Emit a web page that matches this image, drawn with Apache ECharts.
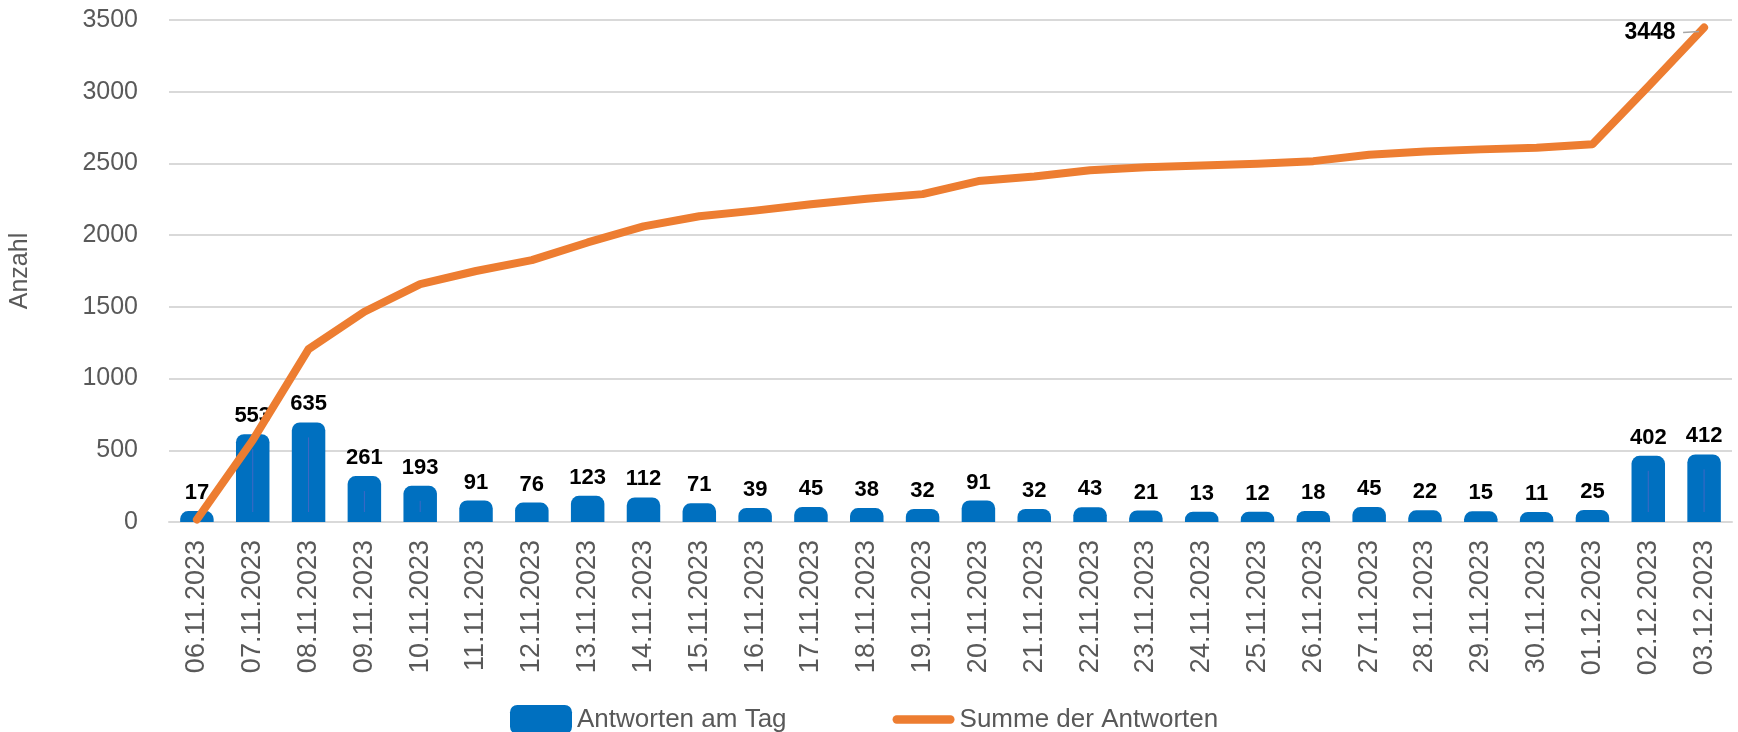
<!DOCTYPE html>
<html>
<head>
<meta charset="utf-8">
<script src="https://cdn.jsdelivr.net/npm/echarts@6/dist/echarts.min.js"></script>
<style>
  html, body { margin: 0; padding: 0; background: #fff; }
  #chart_box { width: 1738px; height: 732px; }
</style>
</head>
<body>
<div id="chart_box"></div>
<script>
// Tage (x-Achse)
const days = [
  "06.11.2023", "07.11.2023", "08.11.2023", "09.11.2023", "10.11.2023",
  "11.11.2023", "12.11.2023", "13.11.2023", "14.11.2023", "15.11.2023",
  "16.11.2023", "17.11.2023", "18.11.2023", "19.11.2023", "20.11.2023",
  "21.11.2023", "22.11.2023", "23.11.2023", "24.11.2023", "25.11.2023",
  "26.11.2023", "27.11.2023", "28.11.2023", "29.11.2023", "30.11.2023",
  "01.12.2023", "02.12.2023", "03.12.2023"
];
// Antworten am Tag
const dailyAnswers = [
  17, 553, 635, 261, 193, 91, 76, 123, 112, 71,
  39, 45, 38, 32, 91, 32, 43, 21, 13, 12,
  18, 45, 22, 15, 11, 25, 402, 412
];
// Summe der Antworten
const totalAnswers = [
  17, 570, 1205, 1466, 1659, 1750, 1826, 1949, 2061, 2132,
  2171, 2216, 2254, 2286, 2377, 2409, 2452, 2473, 2486, 2498,
  2516, 2561, 2583, 2598, 2609, 2634, 3036, 3448
];
const yTicks = { min: 0, max: 3500, interval: 500 };

const FONT = "'Liberation Sans', Arial, sans-serif";
const BLUE = "#0070C0";
const ORANGE = "#ED7D31";
const GREY = "#595959";

let myChart = echarts.init(document.getElementById("chart_box"));

// Balken wie in Excel: abgerundet, mit dicker Kontur (etwas hoeher als der Wert)
function renderBar(params, api) {
  const idx = api.value(0);
  const val = api.value(1);
  const base = api.coord([idx, 0]);
  const top = api.coord([idx, val]);
  const w = api.size([1, 0])[0] * 0.6;
  const extra = 8.5;
  const y0 = top[1] - extra;
  const h = base[1] - y0;
  const children = [
    {
      type: "rect",
      shape: { x: base[0] - w / 2, y: y0, width: w, height: h, r: [8, 8, 0, 0] },
      style: { fill: BLUE }
    },
    {
      type: "text",
      style: {
        text: String(val),
        x: base[0],
        y: y0 - 7,
        align: "center",
        verticalAlign: "bottom",
        fontFamily: FONT,
        fontWeight: "bold",
        fontSize: 22,
        fill: "#000"
      }
    }
  ];
  if (h > 30) {
    children.push({
      type: "line",
      shape: { x1: base[0], y1: y0 + 15, x2: base[0], y2: base[1] - 10 },
      style: { stroke: "#5a64c8", lineWidth: 1, opacity: 0.7 }
    });
  }
  return { type: "group", children: children };
}

const lastIdx = totalAnswers.length - 1;

const option = {
  animation: false,
  backgroundColor: "#fff",
  grid: { left: 168, right: 6, top: 20, bottom: 210 },
  legend: {
    left: 505,
    top: 700,
    itemWidth: 62,
    itemHeight: 29,
    itemGap: 106,
    textStyle: { fontFamily: FONT, fontSize: 26, color: GREY },
    data: [
      { name: "Antworten am Tag", icon: "roundRect", itemStyle: { color: BLUE } },
      {
        name: "Summe der Antworten",
        icon: "path://M4,0 L56,0 A4,4 0 0 1 56,8 L4,8 A4,4 0 0 1 4,0 Z",
        itemStyle: { color: ORANGE }
      }
    ]
  },
  xAxis: {
    type: "category",
    data: days,
    axisLine: { lineStyle: { color: "#D9D9D9", width: 2 } },
    axisTick: { length: 8, lineStyle: { color: "#D9D9D9", width: 2 } },
    axisLabel: {
      rotate: 90,
      margin: 18,
      fontFamily: FONT,
      fontSize: 27,
      color: GREY,
      interval: 0
    }
  },
  yAxis: {
    type: "value",
    min: yTicks.min,
    max: yTicks.max,
    interval: yTicks.interval,
    name: "Anzahl",
    nameLocation: "middle",
    nameRotate: 90,
    nameGap: 136,
    nameTextStyle: { fontFamily: FONT, fontSize: 25, color: GREY },
    axisLine: { show: false },
    axisTick: { show: false },
    axisLabel: {
      margin: 31,
      fontFamily: FONT,
      fontSize: 25,
      color: GREY,
      formatter: (v) => String(v)
    },
    splitLine: { lineStyle: { color: "#D9D9D9", width: 2 } }
  },
  series: [
    {
      name: "Antworten am Tag",
      type: "custom",
      renderItem: renderBar,
      itemStyle: { color: BLUE },
      encode: { x: 0, y: 1 },
      data: dailyAnswers.map((v, i) => [i, v]),
      z: 2
    },
    {
      name: "Summe der Antworten",
      type: "line",
      symbol: "circle",
      symbolSize: 1,
      showSymbol: true,
      lineStyle: { color: ORANGE, width: 8, cap: "round", join: "round" },
      itemStyle: { color: ORANGE },
      z: 3,
      data: totalAnswers.map((v, i) =>
        i === lastIdx
          ? {
              value: v,
              label: {
                show: true,
                position: "left",
                distance: 28,
                offset: [0, 5],
                fontFamily: FONT,
                fontWeight: "bold",
                fontSize: 23,
                color: "#000"
              }
            }
          : v
      )
    }
  ]
};

myChart.setOption(option);

// kurze Fuehrungslinie zum Label "3448"
const p = myChart.convertToPixel({ seriesIndex: 1 }, [lastIdx, totalAnswers[lastIdx]]);
myChart.setOption({
  graphic: [{
    type: "line",
    z: 10,
    shape: { x1: p[0] - 21, y1: p[1] + 5, x2: p[0] - 5, y2: p[1] + 4 },
    style: { stroke: "#A6A6A6", lineWidth: 1.5 }
  }]
});
</script>
</body>
</html>
